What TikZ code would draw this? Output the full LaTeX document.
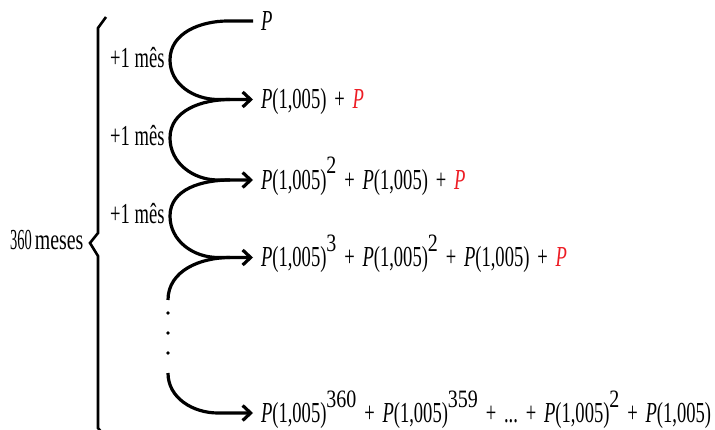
\documentclass[tikz,border=0pt]{standalone}
\usepackage{fontspec}
\setmainfont[FakeStretch=0.64]{Liberation Serif}
\usetikzlibrary{arrows.meta}
\definecolor{pred}{RGB}{237,28,36}
\newcommand\Pv{\textit{P}}
\newcommand\PRed{{\color{pred}\textit{P}}}
\newcommand\pl{\hspace{7.8pt}+\hspace{7.8pt}}
\newcommand\sps[1]{\raisebox{15.5pt}{\fontsize{25}{25}\selectfont\scalebox{1.25}[1]{#1}}}
\begin{document}
\begin{tikzpicture}[x=1pt,y=1pt,
  row/.style={anchor=west, inner xsep=8pt, inner ysep=0pt, outer sep=0pt,
    text height=19pt, text depth=0pt, font=\fontsize{29}{33}\selectfont},
  lab/.style={anchor=base west, inner sep=0pt, font=\fontsize{29}{33}\selectfont},
  conn/.style={line width=3.2pt, -{Straight Barb[length=8pt,width=15pt]}},
  loopline/.style={line width=3.2pt},
  bracel/.style={line width=2.6pt, line join=miter}]
\useasboundingbox (0,0) rectangle (715,-430);
% rows
\node[row] (R0) at (253,-21) {\Pv};
\node[row] (R1) at (253,-99.5) {\Pv(1,005)\pl\PRed};
\node[row] (R2) at (253,-180) {\Pv(1,005)\sps{2}\pl\Pv(1,005)\pl\PRed};
\node[row] (R3) at (253,-257.5) {\Pv(1,005)\sps{3}\pl\Pv(1,005)\sps{2}\pl\Pv(1,005)\pl\PRed};
\node[row] (R4) at (253,-413) {\Pv(1,005)\sps{360}\pl\Pv(1,005)\sps{359}\pl...\pl\Pv(1,005)\sps{2}\pl\Pv(1,005)};
% leftmost points of loops
\coordinate (L1) at (170,-60);
\coordinate (L2) at (170,-138);
\coordinate (L3) at (170,-216);
\coordinate (L4a) at (168,-300);
\coordinate (L4b) at (168,-373);
% loops
\draw[conn] (R0.west) -- ++(-25,0) to[out=180,in=90] (L1) to[out=-90,in=180] ([xshift=-35pt]R1.west) -- (R1.west);
\draw[conn] ([xshift=-23pt]R1.west) to[out=180,in=90] (L2) to[out=-90,in=180] ([xshift=-35pt]R2.west) -- (R2.west);
\draw[conn] ([xshift=-23pt]R2.west) to[out=180,in=90] (L3) to[out=-90,in=180] ([xshift=-35pt]R3.west) -- (R3.west);
\draw[loopline] ([xshift=-23pt]R3.west) to[out=180,in=90] (L4a);
\draw[conn] (L4b) to[out=-90,in=180] ([xshift=-35pt]R4.west) -- (R4.west);
\fill (168,-313) circle (1.9);
\fill (168,-333) circle (1.9);
\fill (168,-353) circle (1.9);
% labels
\node[lab] (m1) at (110,-68) {+1 mês};
\node[lab] (m2) at (110,-146) {+1 mês};
\node[lab] (m3) at (110,-224) {+1 mês};
% brace
\draw[bracel] (106,-17) -- (98,-28) -- (98,-233) -- (90,-243) -- (98,-256) -- (98,-428) -- (102,-433);
\node[lab] (tot) at (10,-250) {\scalebox{0.78}[1]{360}\hspace{3pt}\scalebox{1.07}[1]{meses}};
\end{tikzpicture}
\end{document}
